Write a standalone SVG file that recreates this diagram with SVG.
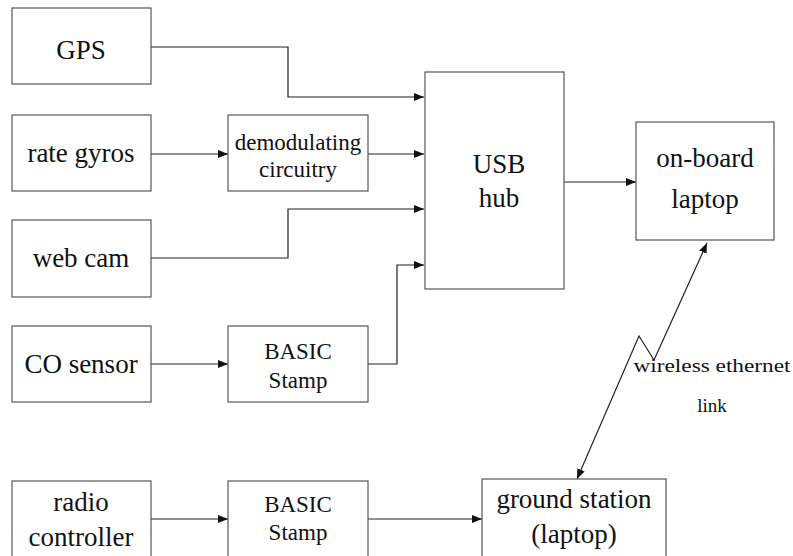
<svg xmlns="http://www.w3.org/2000/svg" width="793" height="556" viewBox="0 0 793 556">
<style>
.box{fill:#fff;stroke:#555;stroke-width:1.2}
.t{font-family:'Liberation Serif','Times New Roman','DejaVu Serif',serif;fill:#111;text-anchor:middle}
.l{font-size:27px}
.s{font-size:23px}
.c{fill:none;stroke:#222;stroke-width:1.2}
</style>
<defs>
<marker id="ah" markerUnits="userSpaceOnUse" markerWidth="10" markerHeight="8" refX="10" refY="4" orient="auto-start-reverse">
<path d="M0,0 L10,4 L0,8 z" fill="#111"/>
</marker>
</defs>
<rect width="793" height="556" fill="#fff"/>
<g id="connectors">
<polyline class="c" points="151,47 288,47 288,97 424,97" marker-end="url(#ah)"/>
<line class="c" x1="151" y1="154" x2="228" y2="154" marker-end="url(#ah)"/>
<line class="c" x1="368" y1="154" x2="424" y2="154" marker-end="url(#ah)"/>
<polyline class="c" points="151,258 288,258 288,209 424,209" marker-end="url(#ah)"/>
<line class="c" x1="151" y1="364" x2="228" y2="364" marker-end="url(#ah)"/>
<polyline class="c" points="368,364 397,364 397,265 424,265" marker-end="url(#ah)"/>
<line class="c" x1="564" y1="182" x2="636" y2="182" marker-end="url(#ah)"/>
<line class="c" x1="151" y1="519" x2="228" y2="519" marker-end="url(#ah)"/>
<line class="c" x1="368" y1="519" x2="482" y2="519" marker-end="url(#ah)"/>
<polyline class="c" points="707,243 654,360 639,336 577,479" marker-start="url(#ah)" marker-end="url(#ah)"/>
<text class="t" x="712" y="372" font-size="19" textLength="157" lengthAdjust="spacingAndGlyphs">wireless ethernet</text>
<text class="t" x="712" y="412" font-size="19">link</text>
</g>
<g id="gps"><rect class="box" x="12" y="8" width="139" height="76"/><text class="t l" x="81" y="59">GPS</text></g>
<g id="rate-gyros"><rect class="box" x="12" y="115" width="139" height="76"/><text class="t l" x="81" y="162">rate gyros</text></g>
<g id="demod"><rect class="box" x="228" y="115" width="140" height="76"/><text class="t s" x="298" y="150">demodulating</text><text class="t s" x="298" y="177">circuitry</text></g>
<g id="web-cam"><rect class="box" x="12" y="220" width="139" height="77"/><text class="t l" x="81" y="267">web cam</text></g>
<g id="co-sensor"><rect class="box" x="12" y="326" width="139" height="76"/><text class="t l" x="81" y="373">CO sensor</text></g>
<g id="stamp1"><rect class="box" x="228" y="326" width="140" height="76"/><text class="t s" x="298" y="359">BASIC</text><text class="t s" x="298" y="388">Stamp</text></g>
<g id="usb-hub"><rect class="box" x="425" y="72" width="139" height="217"/><text class="t l" x="499" y="173">USB</text><text class="t l" x="499" y="207">hub</text></g>
<g id="onboard-laptop"><rect class="box" x="636" y="122" width="138" height="118"/><text class="t l" x="705" y="167">on-board</text><text class="t l" x="705" y="208">laptop</text></g>
<g id="radio-controller"><rect class="box" x="12" y="481" width="139" height="90"/><text class="t l" x="81" y="511">radio</text><text class="t l" x="81" y="546">controller</text></g>
<g id="stamp2"><rect class="box" x="228" y="481" width="140" height="90"/><text class="t s" x="298" y="512">BASIC</text><text class="t s" x="298" y="540">Stamp</text></g>
<g id="ground-station"><rect class="box" x="482" y="479" width="184" height="92"/><text class="t l" x="574" y="508">ground station</text><text class="t l" x="574" y="543">(laptop)</text></g>
</svg>
